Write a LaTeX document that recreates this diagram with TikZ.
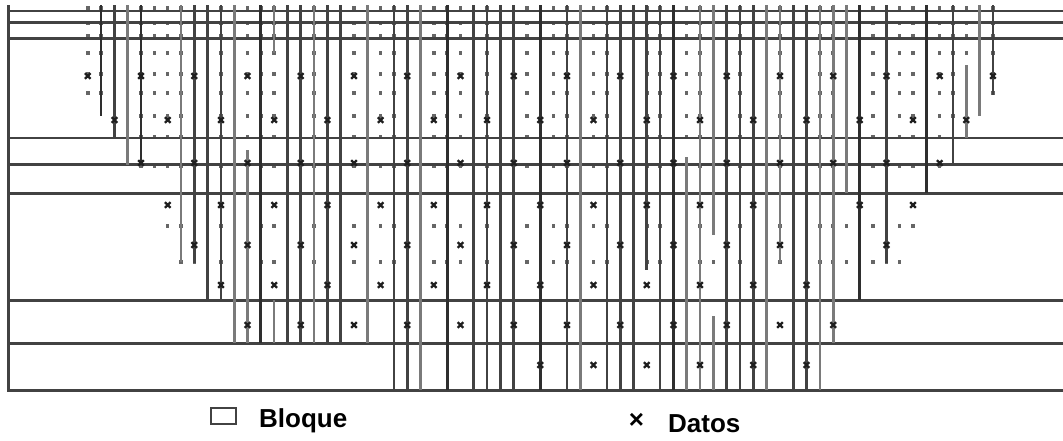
\documentclass[tikz,border=0pt]{standalone}
\usepackage{fontspec}
\setmainfont{Liberation Sans}
\usetikzlibrary{positioning}
\definecolor{lnblack}{HTML}{2E2E2E}
\definecolor{lndark}{HTML}{424242}
\definecolor{lngray}{HTML}{7A7A7A}
\definecolor{dotgray}{HTML}{666666}

\begin{document}
\begin{tikzpicture}[
    x=1pt, y=-1pt,
    hline/.style={draw=lndark, line width=#1},
    vline/.style={line width=2.7pt},
    dot/.style={fill=dotgray},
    xmark/.style={draw=black!88, line width=2.3pt},
    lbl/.style={font=\fontsize{26}{30}\selectfont\bfseries, inner sep=0pt, anchor=base west},
    keybox/.style={draw=lndark, line width=2.4pt, minimum width=25pt, minimum height=16pt, inner sep=0pt}
  ]
  \useasboundingbox (0,0) rectangle (1063,440);

  % Grid dots
  \foreach \y/\ka/\kb in {8/0/68, 23/0/68, 36/0/68, 53/0/68, 74/0/68, 93/0/68, 116/2/66,
                          137/4/64, 166/4/64, 226/6/62, 262/7/61}
    \foreach \k in {\ka,...,\kb}
      \fill[dot] ({87.8+13.31*\k-1.7},\y-1.7) rectangle ++(3.4,3.4);

  % Bands
  \foreach \y/\w in {10.7/1.7pt, 22.7/3pt, 38.3/2.4pt, 138.3/1.7pt, 164.3/3.1pt,
                     193.5/2.1pt, 300.5/3.1pt, 343.5/2.1pt, 390.3/3.2pt}
    \draw[hline=\w] (8,\y) -- (1063,\y);
  \draw[hline=3pt] (8,5) -- (8,391.8);

  % Block columns: index / top / bottom / colour
  \foreach \k/\a/\b/\c in {
      1/5/116/lnblack, 2/5/138/lndark, 3/5/165/lngray, 4/5/165/lnblack,
      7/5/262/lngray, 8/5/263/lndark, 9/5/300/lndark, 10/5/300/lndark,
      11/5/343/lngray, 12/150/343/lngray, 13/5/343/lnblack, 14/5/53/lngray, 14/300/343/lngray,
      15/5/343/lndark, 16/5/343/lndark, 17/5/343/lngray, 18/5/343/lndark, 19/5/343/lndark,
      21/5/343/lngray, 23/5/390/lndark, 24/5/390/lndark, 25/5/390/lngray, 27/5/390/lnblack,
      29/5/390/lndark, 30/5/390/lndark, 31/5/390/lndark, 32/5/390/lndark, 34/5/390/lnblack,
      36/5/390/lndark, 37/5/390/lngray, 39/5/390/lndark, 40/5/390/lndark, 41/5/390/lndark,
      42/5/270/lndark, 43/5/390/lndark, 44/5/390/lnblack, 45/157/390/lngray, 46/5/390/lngray,
      47/5/235/lngray, 47/316/390/lngray, 48/5/390/lndark, 49/5/390/lndark, 50/5/390/lndark,
      51/5/390/lngray, 52/5/263/lngray, 53/5/390/lndark, 54/5/390/lndark, 55/5/390/lngray,
      56/5/343/lngray, 57/5/193/lngray, 58/5/300/lnblack, 60/5/263/lndark, 63/5/193/lnblack,
      65/5/165/lndark, 66/65/138/lngray, 67/5/116/lngray, 68/5/95/lndark}
    \draw[vline, draw=\c] ({87.8+13.31*\k},\a) -- ({87.8+13.31*\k},\b);

  % Data marks: row / first column / count
  \foreach \y/\ka/\n in {76/0/17, 120/2/16, 163/4/15, 205/6/11, 205/58/1, 245/8/11, 245/60/0,
                         285/10/11, 325/12/11, 365/34/5}
    \foreach \i in {0,...,\n}
      \draw[xmark, shift={({87.8+13.31*(\ka+4*\i)},\y)}] (-2.8,-2.8) -- (2.8,2.8) (-2.8,2.8) -- (2.8,-2.8);

  % Legend
  \node[keybox] (bloquekey) at (223.5,416) {};
  \node[lbl] (bloque) at (259,427.5) {Bloque};
  \node[lbl, anchor=center, font=\fontsize{26}{26}\selectfont\bfseries] (datoskey) at (636.5,421) {×};
  \node[lbl] (datos) at (668,432) {Datos};

\end{tikzpicture}
\end{document}
